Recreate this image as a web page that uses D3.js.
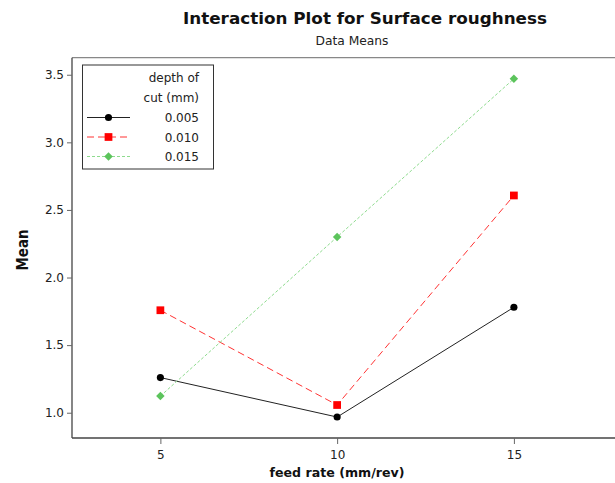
<!DOCTYPE html>
<html><head><meta charset="utf-8">
<script src="https://cdn.jsdelivr.net/npm/d3@7"></script>
<style>body{margin:0;background:#fff}svg{display:block}</style>
</head><body>
<svg id="c" width="615" height="483"></svg>
<script>
const feedRates = [5, 10, 15];
const depthLabels = ["0.005", "0.010", "0.015"];
const series005 = [1.26, 0.968, 1.78];
const series010 = [1.758, 1.057, 2.607];
const series015 = [1.123, 2.30, 3.47];
const yTicks = [1.0, 1.5, 2.0, 2.5, 3.0, 3.5];
const xTicks = [5, 10, 15];

const svg = d3.select("#c");
const font = "Tahoma, 'DejaVu Sans', Verdana, sans-serif";
const L = 72, R = 615, T = 57.7, B = 438;
const x = d3.scaleLinear().domain([2.5, 17.86]).range([L, R]);
const y = d3.scaleLinear().domain([0.813, 3.626]).range([B, T]);

// frame
svg.append("line").attr("x1", L).attr("x2", R).attr("y1", T).attr("y2", T).attr("stroke", "#888").attr("stroke-width", 1.3);
// axes
const ya = svg.append("g").attr("transform", `translate(${L},0)`)
  .call(d3.axisLeft(y).tickValues(yTicks).tickFormat(d3.format(".1f")).tickSize(5).tickSizeOuter(0));
const xa = svg.append("g").attr("transform", `translate(0,${B})`)
  .call(d3.axisBottom(x).tickValues(xTicks).tickFormat(d3.format("d")).tickSize(6).tickSizeOuter(0));
[ya, xa].forEach(g => {
  g.select(".domain").attr("stroke", "#444").attr("stroke-width", 1.3);
  g.selectAll(".tick line").attr("stroke", "#666");
  g.selectAll("text").attr("font-family", font).attr("font-size", 12).attr("fill", "#222");
});
ya.select(".domain").attr("d", `M0,${T}V${B}`);
ya.selectAll(".tick text").attr("x", -8);
xa.select(".domain").attr("d", `M${L},0H${R}`);
xa.selectAll(".tick text").attr("y", 12);

// titles
svg.append("text").attr("x", 365).attr("y", 24).attr("text-anchor", "middle")
  .attr("font-family", font).attr("font-weight", "bold").attr("font-size", 16.5).attr("fill", "#111")
  .attr("textLength", 364).attr("lengthAdjust", "spacingAndGlyphs")
  .text("Interaction Plot for Surface roughness");
svg.append("text").attr("x", 352).attr("y", 45).attr("text-anchor", "middle")
  .attr("font-family", font).attr("font-size", 12).attr("fill", "#222")
  .attr("textLength", 73).attr("lengthAdjust", "spacingAndGlyphs")
  .text("Data Means");
svg.append("text").attr("x", 337).attr("y", 477).attr("text-anchor", "middle")
  .attr("font-family", font).attr("font-weight", "bold").attr("font-size", 13).attr("fill", "#111")
  .attr("textLength", 135).attr("lengthAdjust", "spacingAndGlyphs")
  .text("feed rate (mm/rev)");
svg.append("text").attr("transform", "translate(28,250) rotate(-90)").attr("text-anchor", "middle")
  .attr("font-family", font).attr("font-weight", "bold").attr("font-size", 16).attr("fill", "#111")
  .attr("textLength", 41).attr("lengthAdjust", "spacingAndGlyphs")
  .text("Mean");

const styles = [
  {vals: series005, stroke: "#222", dash: null, fill: "#000", sym: d3.symbolCircle, size: 40, rot: 0},
  {vals: series010, stroke: "#ff3333", dash: "7,4", fill: "#ff0000", sym: d3.symbolSquare, size: 60, rot: 0},
  {vals: series015, stroke: "#8edb8e", dash: "3,2", fill: "#5cc45c", sym: d3.symbolSquare, size: 36, rot: 45}
];
const line = d3.line().x((d, i) => x(feedRates[i])).y(d => y(d));
styles.forEach(s => {
  svg.append("path").attr("d", line(s.vals)).attr("fill", "none").attr("stroke", s.stroke)
    .attr("stroke-width", 1).attr("stroke-dasharray", s.dash);
  svg.selectAll(null).data(s.vals).enter().append("path")
    .attr("d", d3.symbol().type(s.sym).size(s.size))
    .attr("transform", (d, i) => `translate(${x(feedRates[i])},${y(d)}) rotate(${s.rot})`)
    .attr("fill", s.fill);
});

// legend
const lg = svg.append("g");
lg.append("rect").attr("x", 82.5).attr("y", 65).attr("width", 131).attr("height", 104)
  .attr("fill", "#fff").attr("stroke", "#333").attr("stroke-width", 1);
lg.append("text").attr("x", 199).attr("y", 82).attr("text-anchor", "end")
  .attr("font-family", font).attr("font-size", 12).attr("fill", "#222").text("depth of");
lg.append("text").attr("x", 199).attr("y", 102).attr("text-anchor", "end")
  .attr("font-family", font).attr("font-size", 12).attr("fill", "#222").text("cut (mm)");
styles.forEach((s, i) => {
  const yy = 117.5 + i * 19.5;
  lg.append("line").attr("x1", 87).attr("x2", 130).attr("y1", yy).attr("y2", yy)
    .attr("stroke", s.stroke).attr("stroke-width", 1).attr("stroke-dasharray", s.dash);
  lg.append("path").attr("d", d3.symbol().type(s.sym).size(s.size)).attr("transform", `translate(108.5,${yy}) rotate(${s.rot})`).attr("fill", s.fill);
  lg.append("text").attr("x", 199).attr("y", yy + 4.5).attr("text-anchor", "end")
    .attr("font-family", font).attr("font-size", 12).attr("fill", "#222").text(depthLabels[i]);
});
</script>
</body></html>
